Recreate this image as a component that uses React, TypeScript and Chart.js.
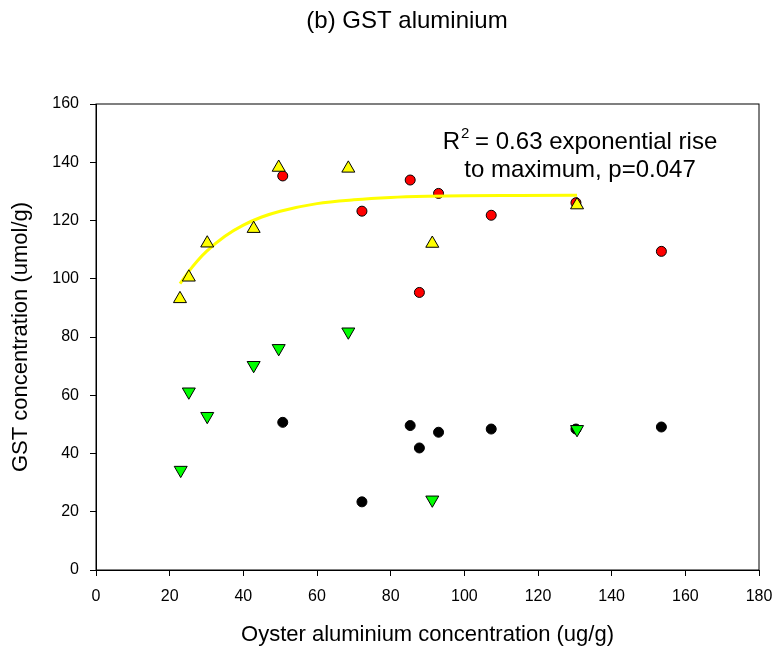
import React, { useEffect, useRef } from "react";
import { Chart, registerables } from "chart.js";

Chart.register(...registerables);

const chartTitle = "(b) GST aluminium";
const xAxisTitle = "Oyster aluminium concentration (ug/g)";
const yAxisTitle = "GST concentration (umol/g)";
const annotationLine1 = ["R", "2", " = 0.63 exponential rise"];
const annotationLine2 = "to maximum, p=0.047";

const xTicks = [0, 20, 40, 60, 80, 100, 120, 140, 160, 180];
const yTicks = [0, 20, 40, 60, 80, 100, 120, 140, 160];

// Yellow up-triangles
const yellowX = [22.8, 25.2, 30.2, 42.8, 49.6, 68.5, 91.3, 130.6];
const yellowY = [93.1, 100.5, 112.2, 117.2, 138.2, 137.9, 112.1, 125.3];
// Green down-triangles
const greenX = [23.0, 25.2, 30.2, 42.8, 49.6, 68.5, 91.3, 130.6];
const greenY = [34.3, 61.2, 52.8, 70.3, 76.1, 81.8, 24.1, 48.3];
// Red circles
const redX = [50.7, 72.2, 85.3, 87.8, 93.0, 107.3, 130.3, 153.5];
const redY = [135.3, 123.2, 133.9, 95.3, 129.3, 121.8, 126.1, 109.4];
// Black circles
const blackX = [50.7, 72.2, 85.3, 87.8, 93.0, 107.3, 130.3, 153.5];
const blackY = [50.7, 23.4, 49.6, 41.9, 47.3, 48.4, 48.4, 49.1];
// Fitted curve
const fitX = [22.8, 25, 27.5, 30, 35, 40, 45, 50, 60, 70, 80, 90, 100, 115, 130.6];
const fitY = [98.3, 102.2, 106.1, 109.4, 114.6, 118.4, 121.2, 123.2, 125.8, 127.1, 127.9, 128.3, 128.5, 128.6, 128.7];

const FONT = "'Liberation Sans', Arial, Helvetica, sans-serif";

const pts = (xs: number[], ys: number[]) => xs.map((x, i) => ({ x, y: ys[i] }));

const textPlugin = {
  id: "textPlugin",
  afterDraw(chart: any) {
    const { ctx, chartArea } = chart;
    ctx.save();
    // frame
    ctx.strokeStyle = "#000";
    ctx.lineWidth = 1;
    ctx.strokeRect(chartArea.left, chartArea.top, chartArea.right - chartArea.left, chartArea.bottom - chartArea.top);
    ctx.fillStyle = "#000";
    // title
    ctx.font = `24px ${FONT}`;
    ctx.textAlign = "center";
    ctx.textBaseline = "middle";
    ctx.fillText(chartTitle, 407, 21);
    // annotation
    const cx = 580;
    const big = `24px ${FONT}`;
    const small = `15px ${FONT}`;
    ctx.font = big;
    const wR = ctx.measureText(annotationLine1[0]).width;
    const wRest = ctx.measureText(annotationLine1[2]).width;
    ctx.font = small;
    const w2 = ctx.measureText(annotationLine1[1]).width;
    const total = wR + w2 + wRest;
    const x0 = cx - total / 2;
    ctx.textAlign = "left";
    ctx.textBaseline = "alphabetic";
    ctx.font = big;
    ctx.fillText(annotationLine1[0], x0, 149);
    ctx.font = small;
    ctx.fillText(annotationLine1[1], x0 + wR + 1, 138);
    ctx.font = big;
    ctx.fillText(annotationLine1[2], x0 + wR + w2, 149);
    ctx.textAlign = "center";
    ctx.fillText(annotationLine2, cx, 177);
    ctx.restore();
  },
};

export default function App() {
  const ref = useRef<HTMLCanvasElement | null>(null);
  useEffect(() => {
    if (!ref.current) return;
    const tickFont = { family: FONT, size: 16 };
    const chart = new Chart(ref.current, {
      type: "scatter",
      data: {
        datasets: [
          {
            label: "yellow",
            data: pts(yellowX, yellowY),
            pointStyle: "triangle",
            pointRadius: 7.5,
            pointBackgroundColor: "#FFFF00",
            pointBorderColor: "#000",
            pointBorderWidth: 1,
            order: 0,
          },
          {
            label: "green",
            data: pts(greenX, greenY),
            pointStyle: "triangle",
            rotation: 180,
            pointRadius: 7.5,
            pointBackgroundColor: "#00FF00",
            pointBorderColor: "#000",
            pointBorderWidth: 1,
            order: 1,
          },
          {
            type: "line",
            label: "fit",
            data: pts(fitX, fitY),
            borderColor: "#FFFF00",
            borderWidth: 3,
            pointRadius: 0,
            cubicInterpolationMode: "monotone",
            fill: false,
            showLine: true,
            order: 2,
          } as any,
          {
            label: "red",
            data: pts(redX, redY),
            pointStyle: "circle",
            pointRadius: 5,
            pointBackgroundColor: "#FF0000",
            pointBorderColor: "#000",
            pointBorderWidth: 1,
            order: 3,
          },
          {
            label: "black",
            data: pts(blackX, blackY),
            pointStyle: "circle",
            pointRadius: 5,
            pointBackgroundColor: "#000",
            pointBorderColor: "#000",
            pointBorderWidth: 1,
            order: 4,
          },
        ],
      },
      options: {
        responsive: false,
        animation: false,
        layout: { padding: { top: 104, right: 17, left: 0, bottom: 0 } },
        plugins: { legend: { display: false }, tooltip: { enabled: false }, title: { display: false } },
        scales: {
          x: {
            type: "linear",
            min: 0,
            max: 180,
            afterBuildTicks: (s: any) => { s.ticks = xTicks.map((v) => ({ value: v })); },
            afterFit: (s: any) => { s.height = 81; s.paddingLeft = 0; s.paddingRight = 0; },
            ticks: { color: "#000", font: tickFont, padding: 11 },
            grid: { display: true, drawOnChartArea: false, tickLength: 6, color: "#000" },
            border: { display: true, color: "#000", width: 1 },
            title: { display: true, text: xAxisTitle, color: "#000", font: { family: FONT, size: 22 }, padding: { top: 0, bottom: 3 } },
          },
          y: {
            type: "linear",
            min: 0,
            max: 160,
            afterBuildTicks: (s: any) => { s.ticks = yTicks.map((v) => ({ value: v })); },
            afterFit: (s: any) => { s.width = 96; s.paddingTop = 0; s.paddingBottom = 0; },
            ticks: { color: "#000", font: tickFont, padding: 11 },
            grid: { display: true, drawOnChartArea: false, tickLength: 6, color: "#000" },
            border: { display: true, color: "#000", width: 1 },
            title: { display: true, text: yAxisTitle, color: "#000", font: { family: FONT, size: 22 }, padding: { top: 8, bottom: 0 } },
          },
        },
      } as any,
      plugins: [textPlugin],
    });
    return () => chart.destroy();
  }, []);
  return (
    <div style={{ position: "fixed", left: 0, top: 0, width: 776, height: 651, background: "#fff" }}>
      <canvas ref={ref} width={776} height={651} />
    </div>
  );
}
